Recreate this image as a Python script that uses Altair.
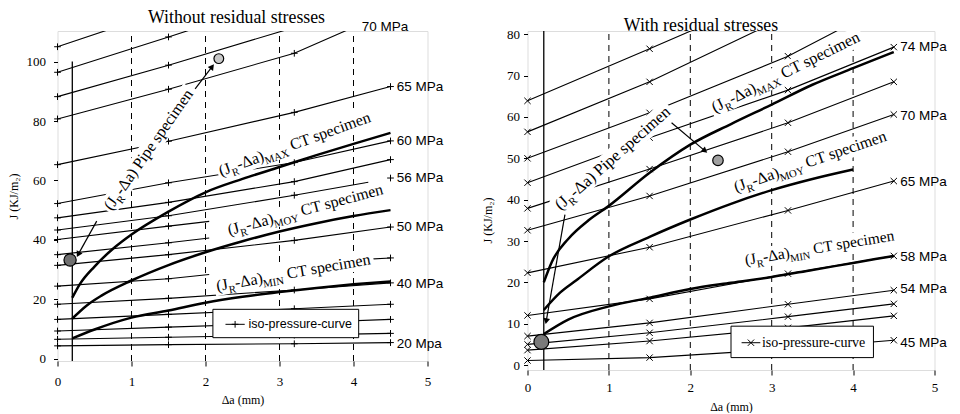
import math
import altair as alt
import pandas as pd

SERIF = "Liberation Serif"
SANS = "Liberation Sans"

# ---------------- shared values ----------------
DA_PTS = [0.0, 1.5, 3.2, 4.5]        # Δa where iso-pressure markers sit
X_TICKS = [0, 1, 2, 3, 4, 5]
GRID_DA = [1, 2, 3, 4]
BLUNT_DA = 0.2

# ---------------- left panel : without residual stresses ----------------
L_W, L_H = 370, 330
L_XDOM = [0.0, 5.0]
L_YDOM = [-0.8, 110.3]
L_YTICKS = [0, 20, 40, 60, 80, 100]
L_BLUNT_TOP = 100

# iso-pressure curves: list of visible pieces, each a list of (Δa, J)
L_ISO_20 = [[(0, 4.3), (1.5, 4.7), (3.2, 5.0), (4.5, 5.4)]]
L_ISO_A = [[(0, 6.5), (1.5, 7.2), (3.2, 7.9), (4.5, 8.5)]]
L_ISO_B = [[(0, 9.3), (1.5, 10.6), (3.2, 12.0), (4.5, 13.2)]]
L_ISO_C = [[(0, 13.2), (1.5, 14.9), (3.2, 16.8), (4.5, 18.3)]]
L_ISO_40 = [[(0, 18.3), (1.5, 20.3), (3.2, 23.1), (4.5, 25.5)]]
L_ISO_D = [[(0, 24.4), (1.5, 26.9), (2.05, 28.3)], [(4.15, 33.4), (4.5, 33.9)]]
L_ISO_50 = [[(0, 31.4), (1.5, 35.0), (3.2, 39.8), (4.5, 44.3)]]
L_ISO_E = [[(0, 35.0), (1.5, 39.0), (2.05, 40.6)]]
L_ISO_F = [[(0, 40.1), (1.5, 44.6), (2.05, 46.2)]]
L_ISO_56 = [[(0, 43.3), (1.5, 48.1), (3.2, 55.0), (4.2, 59.4)], [(4.5, 60.8)]]
L_ISO_G = [[(0, 47.4), (1.5, 52.6), (3.2, 59.6), (4.5, 67.0)]]
L_ISO_60 = [[(0, 52.2), (1.5, 59.2), (3.2, 66.0), (4.5, 73.3)]]
L_ISO_65 = [[(0, 65.3), (1.5, 73.2), (3.2, 82.9), (4.5, 91.6)]]
L_ISO_70 = [[(0, 80.7), (1.5, 90.7), (3.2, 102.8), (4.5, 117.0)]]
L_ISO_H = [[(0, 88.2), (1.5, 98.8), (3.2, 111.5), (4.5, 121.0)]]
L_ISO_I = [[(0, 96.4), (1.5, 108.3), (3.2, 122.0), (4.5, 132.0)]]
L_ISO_J = [[(0, 105.0), (1.5, 117.5), (3.2, 132.0), (4.5, 143.0)]]
L_ISO = [L_ISO_20, L_ISO_A, L_ISO_B, L_ISO_C, L_ISO_40, L_ISO_D, L_ISO_50, L_ISO_E,
         L_ISO_F, L_ISO_56, L_ISO_G, L_ISO_60, L_ISO_65, L_ISO_70, L_ISO_H, L_ISO_I, L_ISO_J]

L_MAX_DA = [0.2, 0.3, 0.5, 0.75, 1.0, 1.5, 2.0, 2.5, 3.0, 3.5, 4.0, 4.5]
L_MAX_J = [20.5, 25.0, 31.0, 37.0, 41.8, 49.5, 56.0, 60.5, 64.5, 68.5, 72.3, 76.0]
L_MOY_DA = [0.2, 0.4, 0.6, 1.0, 1.5, 2.0, 2.5, 3.0, 3.5, 4.0, 4.5]
L_MOY_J = [13.5, 18.0, 21.3, 26.3, 31.5, 35.8, 39.5, 42.8, 45.6, 48.0, 50.0]
L_MIN_DA = [0.2, 0.5, 1.0, 1.5, 2.0, 2.5, 3.0, 3.5, 4.0, 4.5]
L_MIN_J = [6.8, 9.8, 13.8, 16.2, 18.8, 20.8, 22.4, 23.8, 25.0, 26.0]

L_PIPE_DA = [0.17, 2.18]
L_PIPE_J = [33.2, 101.0]
L_PIPE_SIZE = [150, 95]
L_PIPE_FILL = ["#707070", "#c8c8c8"]

L_ARROWS = [  # (from Δa, from J, to Δa, to J, head angle)
    (0.53, 46.3, 0.28, 35.1, 209),
    (1.86, 90.8, 2.09, 98.3, 37),
]
L_LABELS = [  # (Δa, J, angle up, font size, kind)
    (0.73, 49.6, 55.0, 16.0, "Pipe"),
    (2.21, 61.4, 20.0, 16.0, "MAX"),
    (2.32, 41.5, 15.0, 16.0, "MOY"),
    (2.16, 22.7, 10.0, 16.0, "MIN"),
]
L_MPA_TEXT = ["70 MPa", "65 MPa", "60 MPa", "56 MPa", "50 MPa", "40 MPa", "20 Mpa"]
L_MPA_DA = [4.11, 4.585, 4.585, 4.585, 4.585, 4.585, 4.585]
L_MPA_J = [111.8, 91.6, 73.4, 60.8, 44.3, 25.2, 5.0]
L_LEGEND_BOX = [2.1, 4.07, 7.05, 16.6]
L_LEGEND_ROW = [2.27, 2.53, 11.55, 2.58]   # line from, line to, J, text start

# ---------------- right panel : with residual stresses ----------------
R_W, R_H = 407, 339
R_XDOM = [0.0, 5.0]
R_YDOM = [-1.2, 80.8]
R_YTICKS = [0, 10, 20, 30, 40, 50, 60, 70, 80]
R_BLUNT_TOP = 80.8

R_ISO_45 = [[(0, 1.1), (1.5, 1.8), (3.2, 3.9), (4.5, 6.0)]]
R_ISO_A = [[(0, 3.6), (1.5, 5.8), (3.2, 9.0), (4.5, 11.9)]]
R_ISO_B = [[(0, 5.0), (1.5, 7.8), (3.2, 11.7), (4.5, 14.8)]]
R_ISO_54 = [[(0, 7.0), (1.5, 10.2), (3.2, 14.7), (4.5, 18.1)]]
R_ISO_58 = [[(0, 12.0), (1.5, 16.0), (3.2, 22.1), (4.5, 26.4)]]
R_ISO_65 = [[(0, 22.3), (1.5, 28.5), (3.2, 37.4), (4.5, 44.5)]]
R_ISO_70 = [[(0, 32.6), (1.5, 40.9), (3.2, 51.6), (4.5, 60.6)]]
R_ISO_C = [[(0, 37.9), (1.5, 47.4), (3.2, 58.6), (4.5, 68.5)]]
R_ISO_74 = [[(0, 44.1), (1.5, 55.0), (3.2, 66.5), (4.5, 76.9)]]
R_ISO_D = [[(0, 50.0), (1.5, 61.0), (3.2, 74.7), (4.5, 88.0)]]
R_ISO_E = [[(0, 56.4), (1.5, 68.5), (3.2, 84.5), (4.5, 96.0)]]
R_ISO_F = [[(0, 63.9), (1.5, 76.5), (3.2, 91.0), (4.5, 101.0)]]
R_ISO = [R_ISO_45, R_ISO_A, R_ISO_B, R_ISO_54, R_ISO_58, R_ISO_65, R_ISO_70,
         R_ISO_C, R_ISO_74, R_ISO_D, R_ISO_E, R_ISO_F]

R_MAX_DA = [0.2, 0.3, 0.5, 0.75, 1.0, 1.5, 2.0, 2.5, 3.0, 3.5, 4.0, 4.5]
R_MAX_J = [20.0, 25.0, 30.5, 35.0, 38.5, 46.5, 53.3, 58.3, 63.0, 67.8, 71.8, 75.7]
R_MOY_DA = [0.2, 0.4, 0.6, 1.0, 1.5, 2.0, 2.5, 3.0, 3.5, 4.0]
R_MOY_J = [13.3, 17.5, 20.5, 26.3, 31.0, 35.2, 39.0, 42.3, 45.0, 47.3]
R_MIN_DA = [0.2, 0.5, 1.0, 1.5, 2.0, 2.5, 3.0, 3.5, 4.0, 4.5]
R_MIN_J = [7.5, 11.0, 14.2, 16.3, 18.4, 19.9, 21.3, 23.0, 24.7, 26.4]

R_PIPE_DA = [0.17, 2.34]
R_PIPE_J = [5.6, 49.5]
R_PIPE_SIZE = [220, 110]
R_PIPE_FILL = ["#7a7a7a", "#a0a0a0"]

R_ARROWS = [
    (1.77, 58.6, 2.18, 51.8, 130),
    (0.46, 36.4, 0.23, 10.6, 190),
]
R_LABELS = [
    (0.405, 37.3, 41.3, 16.5, "Pipe"),
    (2.30, 61.0, 26.3, 16.3, "MAX"),
    (2.56, 41.8, 18.9, 16.0, "MOY"),
    (2.68, 24.2, 9.4, 15.5, "MIN"),
]
R_MPA_TEXT = ["74 MPa", "70 MPa", "65 MPa", "58 MPa", "54 MPa", "45 MPa"]
R_MPA_DA = [4.58, 4.58, 4.58, 4.58, 4.58, 4.58]
R_MPA_J = [76.9, 60.2, 44.3, 26.1, 18.3, 5.4]
R_LEGEND_BOX = [2.5, 4.25, 1.8, 9.4]
R_LEGEND_ROW = [2.63, 2.86, 5.4, 2.88]

PLUS = "M-1,0L1,0M0,-1L0,1"
CROSS = "M-1,-1L1,1M-1,1L1,-1"

TIMES_W = {"(": 333, ")": 333, "J": 389, "R": 667, "-": 333, "Δ": 612, "a": 444, " ": 250,
           "P": 556, "i": 278, "p": 500, "e": 444, "s": 389, "c": 444, "m": 778, "n": 500,
           "C": 667, "T": 611, "M": 889, "A": 722, "X": 722, "O": 722, "Y": 722, "I": 333,
           "N": 722}


def text_width(s, size):
    return sum(TIMES_W.get(c, 500) for c in s) * size / 1000.0


def label_pieces(kind):
    if kind == "Pipe":
        return [("(J", False), ("R", True), ("-Δa)", False), (" Pipe specimen", False)]
    return [("(J", False), ("R", True), ("-Δa)", False), (kind, True), (" CT specimen", False)]


def build_panel(cfg):
    W, H = cfg["W"], cfg["H"]
    xd, yd = cfg["xdom"], cfg["ydom"]

    def to_px(da, j):
        return ((da - xd[0]) / (xd[1] - xd[0]) * W, (yd[1] - j) / (yd[1] - yd[0]) * H)

    def to_data(x, y):
        return (xd[0] + x / W * (xd[1] - xd[0]), yd[1] - y / H * (yd[1] - yd[0]))

    xs = alt.Scale(domain=xd, nice=False, zero=False)
    ys = alt.Scale(domain=yd, nice=False, zero=False)
    xaxis = alt.Axis(values=X_TICKS, format="d", title="Δa (mm)", titleFont=SERIF,
                     titleFontSize=12, titleFontWeight="normal", titleColor="black",
                     titleY=cfg["xtitle_y"], titleBaseline="middle",
                     labelFont=SERIF, labelFontSize=13, labelColor="black",
                     tickColor="black", tickSize=5, labelPadding=cfg["xlabpad"],
                     domain=False, grid=False, labelFlush=False)
    yaxis = alt.Axis(values=cfg["yticks"], format="d", title="J (KJ/m₂)", titleFont=SERIF,
                     titleFontSize=12, titleFontWeight="normal", titleColor="black",
                     titleAngle=270, titleAlign="center", titleBaseline="middle",
                     titleX=cfg["ytitle_x"], titleY=cfg["ytitle_y"],
                     labelFont=SERIF, labelFontSize=13, labelColor="black",
                     tickColor="black", tickSize=4, labelPadding=cfg["ylabpad"],
                     domain=False, grid=False, labelFlush=False)

    def X(f="da"):
        return alt.X(f"{f}:Q", scale=xs, axis=xaxis)

    def Y(f="J"):
        return alt.Y(f"{f}:Q", scale=ys, axis=yaxis)

    layers = []

    # dashed grid
    gdf = pd.DataFrame({"da": GRID_DA, "J": [yd[0]] * len(GRID_DA), "J2": [yd[1]] * len(GRID_DA)})
    layers.append(alt.Chart(gdf).mark_rule(color="black", strokeWidth=1, strokeDash=[6, 5])
                  .encode(x=X(), y=Y(), y2="J2:Q"))

    # iso-pressure curves
    rows, mrows = [], []
    seg = 0
    for pieces in cfg["iso"]:
        for piece in pieces:
            seg += 1
            for da, j in piece:
                rows.append({"seg": seg, "da": da, "J": j})
                if da in DA_PTS and j <= yd[1]:
                    mrows.append({"da": da, "J": j})
    layers.append(alt.Chart(pd.DataFrame(rows)).mark_line(clip=True, color="black", strokeWidth=1.1)
                  .encode(x=X(), y=Y(), detail="seg:N"))
    layers.append(alt.Chart(pd.DataFrame(mrows)).mark_point(
        shape=cfg["marker"], size=cfg["msize"], filled=False, color="black", strokeWidth=1, opacity=1)
        .encode(x=X(), y=Y()))

    # white label boxes
    brows = []
    for k, (da, j, ang, size, kind) in enumerate(cfg["labels"]):
        w = 0.0
        for txt, sub in label_pieces(kind):
            w += text_width(txt, size * 0.68 if sub else size)
        t = math.radians(ang)
        ux, uy = math.cos(t), -math.sin(t)
        nx, ny = -math.sin(t), -math.cos(t)
        x0, y0 = to_px(da, j)
        c = 0.3 * size
        ax, ay = x0 + nx * c - ux * 2, y0 + ny * c - uy * 2
        bx, by = x0 + ux * (w + 3) + nx * c, y0 + uy * (w + 3) + ny * c
        for o, (px, py) in enumerate([(ax, ay), (bx, by)]):
            d, jj = to_data(px, py)
            brows.append({"box": k, "o": o, "da": d, "J": jj})
    layers.append(alt.Chart(pd.DataFrame(brows)).mark_line(
        clip=True, color="white", strokeWidth=cfg["labels"][0][3] * 1.2, strokeCap="butt")
        .encode(x=X(), y=Y(), detail="box:N", order="o:Q"))

    # legend
    lb = cfg["legend_box"]
    layers.append(alt.Chart(pd.DataFrame({"da": [lb[0]], "da2": [lb[1]], "J": [lb[2]], "J2": [lb[3]]}))
                  .mark_rect(fill="white", stroke="black", strokeWidth=1)
                  .encode(x=X(), x2="da2:Q", y=Y(), y2="J2:Q"))
    lr = cfg["legend_row"]
    layers.append(alt.Chart(pd.DataFrame({"da": [lr[0]], "da2": [lr[1]], "J": [lr[2]]}))
                  .mark_rule(color="black", strokeWidth=1).encode(x=X(), x2="da2:Q", y=Y()))
    layers.append(alt.Chart(pd.DataFrame({"da": [(lr[0] + lr[1]) / 2], "J": [lr[2]]}))
                  .mark_point(shape=cfg["marker"], size=cfg["msize"], filled=False, color="black",
                              strokeWidth=1, opacity=1).encode(x=X(), y=Y()))
    layers.append(alt.Chart(pd.DataFrame({"da": [lr[3]], "J": [lr[2]]}))
                  .mark_text(align="left", baseline="middle", font=cfg["legend_font"],
                             fontSize=cfg["legend_size"], color="black")
                  .encode(x=X(), y=Y(), text=alt.value("iso-pressure-curve")))

    # blunting line
    layers.append(alt.Chart(pd.DataFrame({"da": [BLUNT_DA], "J": [yd[0]], "J2": [cfg["blunt_top"]]}))
                  .mark_rule(color="black", strokeWidth=1.3).encode(x=X(), y=Y(), y2="J2:Q"))

    # J-R curves of CT specimens
    crows = []
    for name, dal, jl in cfg["curves"]:
        for da, j in zip(dal, jl):
            crows.append({"c": name, "da": da, "J": j})
    layers.append(alt.Chart(pd.DataFrame(crows)).mark_line(
        clip=True, color="black", strokeWidth=2.5, interpolate="monotone")
        .encode(x=X(), y=Y(), detail="c:N"))

    # arrows
    for (a0, j0, a1, j1, hang) in cfg["arrows"]:
        layers.append(alt.Chart(pd.DataFrame({"da": [a0], "J": [j0], "da2": [a1], "J2": [j1]}))
                      .mark_rule(color="black", strokeWidth=1.2)
                      .encode(x=X(), y=Y(), x2="da2:Q", y2="J2:Q"))
        layers.append(alt.Chart(pd.DataFrame({"da": [a1], "J": [j1]}))
                      .mark_point(shape="triangle-up", size=45, filled=True, color="black",
                                  angle=hang, opacity=1).encode(x=X(), y=Y()))

    # pipe specimen results
    for da, j, s, f in zip(*cfg["pipe"]):
        layers.append(alt.Chart(pd.DataFrame({"da": [da], "J": [j]}))
                      .mark_point(shape="circle", size=s, filled=True, fill=f, stroke="black",
                                  strokeWidth=1.2, opacity=1).encode(x=X(), y=Y()))

    # curve labels with subscripts
    for (da, j, ang, size, kind) in cfg["labels"]:
        dx = 0.0
        df = pd.DataFrame({"da": [da], "J": [j]})
        for txt, sub in label_pieces(kind):
            s = size * 0.68 if sub else size
            if txt.startswith(" "):
                dx += text_width(" ", s)
                txt = txt.strip()
            layers.append(alt.Chart(df).mark_text(
                align="left", baseline="alphabetic", angle=(360 - ang) % 360, dx=dx,
                dy=size * 0.28 if sub else 0, fontSize=s, font=SERIF, color="black")
                .encode(x=X(), y=Y(), text=alt.value(txt)))
            dx += text_width(txt, s)

    # pressure labels
    mdf = pd.DataFrame({"da": cfg["mpa_da"], "J": cfg["mpa_j"], "t": cfg["mpa_text"]})
    layers.append(alt.Chart(mdf).mark_text(align="left", baseline="middle", font=SANS,
                                           fontSize=13.5, color="black")
                  .encode(x=X(), y=Y(), text="t:N"))

    return alt.layer(*layers).properties(
        width=W, height=H,
        title=alt.TitleParams(cfg["title"], font=SERIF, fontSize=17.8, fontWeight="normal",
                              color="black", anchor="middle", frame="group",
                              offset=cfg["title_off"], dx=cfg["title_dx"]))


left_cfg = dict(W=L_W, H=L_H, xdom=L_XDOM, ydom=L_YDOM, yticks=L_YTICKS, iso=L_ISO,
                marker=PLUS, msize=45, labels=L_LABELS,
                curves=[("max", L_MAX_DA, L_MAX_J), ("moy", L_MOY_DA, L_MOY_J), ("min", L_MIN_DA, L_MIN_J)],
                arrows=L_ARROWS, pipe=(L_PIPE_DA, L_PIPE_J, L_PIPE_SIZE, L_PIPE_FILL),
                mpa_text=L_MPA_TEXT, mpa_da=L_MPA_DA, mpa_j=L_MPA_J,
                legend_box=L_LEGEND_BOX, legend_row=L_LEGEND_ROW, legend_font=SANS, legend_size=12.5,
                blunt_top=L_BLUNT_TOP, title="Without residual stresses", title_off=-7, title_dx=-6,
                xtitle_y=38, xlabpad=9, ytitle_x=-44, ytitle_y=165, ylabpad=8)
right_cfg = dict(W=R_W, H=R_H, xdom=R_XDOM, ydom=R_YDOM, yticks=R_YTICKS, iso=R_ISO,
                 marker=CROSS, msize=40, labels=R_LABELS,
                 curves=[("max", R_MAX_DA, R_MAX_J), ("moy", R_MOY_DA, R_MOY_J), ("min", R_MIN_DA, R_MIN_J)],
                 arrows=R_ARROWS, pipe=(R_PIPE_DA, R_PIPE_J, R_PIPE_SIZE, R_PIPE_FILL),
                 mpa_text=R_MPA_TEXT, mpa_da=R_MPA_DA, mpa_j=R_MPA_J,
                 legend_box=R_LEGEND_BOX, legend_row=R_LEGEND_ROW, legend_font=SERIF, legend_size=14,
                 blunt_top=R_BLUNT_TOP, title="With residual stresses", title_off=-6.3, title_dx=-30,
                 xtitle_y=36, xlabpad=6, ytitle_x=-40, ytitle_y=189, ylabpad=4)

chart = alt.hconcat(build_panel(left_cfg), build_panel(right_cfg), spacing=100, bounds="flush") \
    .properties(padding={"left": -1.5, "top": 0, "right": 0, "bottom": 0}) \
    .configure_view(stroke="black", strokeWidth=1.2) \
    .configure(background="white")

chart.save("out.html", embed_options={"renderer": "svg", "actions": False})
